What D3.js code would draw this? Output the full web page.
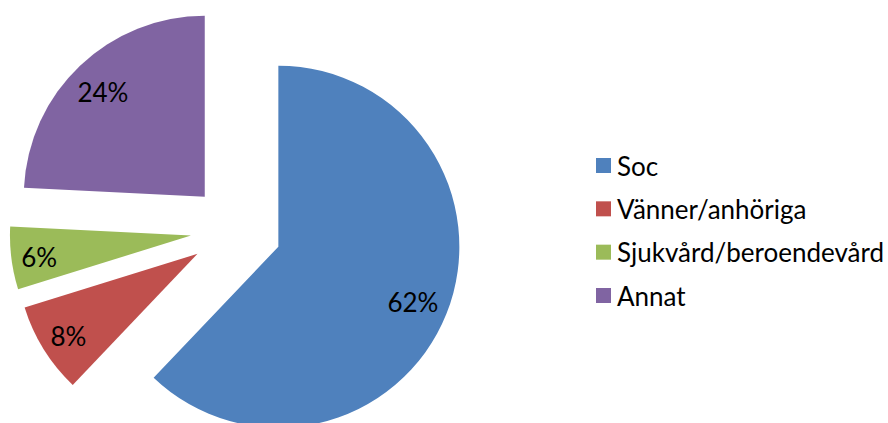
<!DOCTYPE html>
<html><head><meta charset="utf-8">
<script src="https://cdn.jsdelivr.net/npm/d3@7"></script>
<style>html,body{margin:0;padding:0;background:#fff;} svg{display:block}</style>
</head><body>
<svg id="chart" width="888" height="423"></svg>
<script>
const categories = ["Soc", "Vänner/anhöriga", "Sjukvård/beroendevård", "Annat"];
const values = [62.1, 8.1, 5.6, 24.2];
const colors = ["#4F81BD", "#C0504D", "#9BBB59", "#8064A2"];

const svg = d3.select("#chart");
const cx = 236.1, cy = 229.8, R = 181, explode = 45.5;
const font = "Lato, 'Open Sans', sans-serif";
const labelSize = 26, legendSize = 26;

const total = d3.sum(values);
const pie = d3.pie().sort(null).value(d => d.v);
const arcs = pie(categories.map((c, i) => ({ c, v: values[i], color: colors[i] })));
const arc = d3.arc().innerRadius(0).outerRadius(R);

const g = svg.append("g").attr("transform", `translate(${cx},${cy})`);
const slice = g.selectAll("g.slice").data(arcs).join("g")
  .attr("class", "slice")
  .attr("transform", d => {
    const m = (d.startAngle + d.endAngle) / 2;
    return `translate(${explode * Math.sin(m)},${-explode * Math.cos(m)})`;
  });
slice.append("path").attr("d", arc).attr("fill", d => d.data.color);
slice.append("text")
  .text(d => Math.round(d.data.v / total * 100) + "%")
  .attr("font-family", font).attr("font-size", labelSize)
  .attr("text-anchor", "middle").attr("dominant-baseline", "central")
  .attr("fill", "#000")
  .each(function (d) {
    const w = this.getComputedTextLength();
    const h = labelSize * 0.7;
    const m = (d.startAngle + d.endAngle) / 2;
    const ux = Math.sin(m), uy = -Math.cos(m);
    const ext = Math.abs(ux) * w / 2 + Math.abs(uy) * h / 2;
    const r = R - 9 - ext;
    d3.select(this).attr("x", ux * r).attr("y", uy * r + 2);
  });

const legendY = d3.scalePoint().domain(categories).range([165.5, 295.5]);
const lg = svg.append("g").selectAll("g").data(categories).join("g")
  .attr("transform", d => `translate(596,${legendY(d)})`);
lg.append("rect").attr("x", 0).attr("y", -7.5).attr("width", 15).attr("height", 15)
  .attr("fill", (d, i) => colors[i]);
lg.append("text").attr("x", 21).attr("y", 0).text(d => d)
  .attr("font-family", font).attr("font-size", legendSize)
  .attr("dominant-baseline", "central").attr("fill", "#000");
</script>
</body></html>
